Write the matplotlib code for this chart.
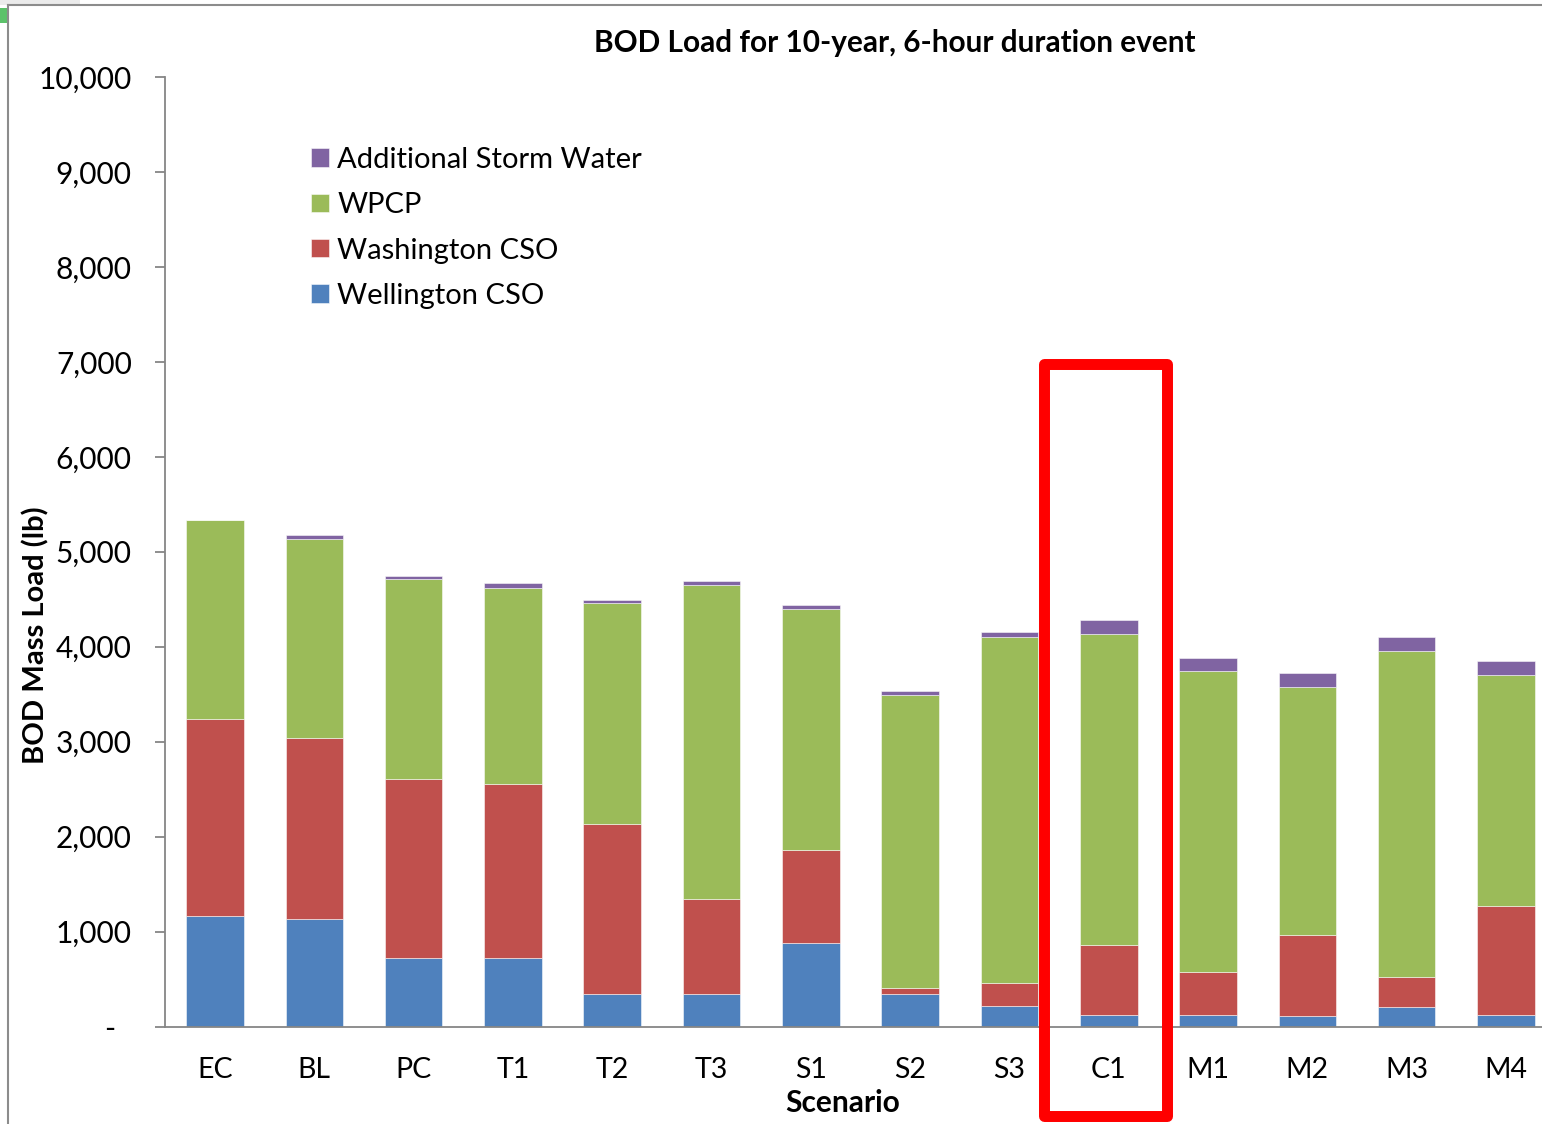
import matplotlib
matplotlib.use("Agg")
import matplotlib.pyplot as plt
from matplotlib.patches import Rectangle
from matplotlib.ticker import FuncFormatter
import numpy as np

plt.rcParams['font.family'] = ['Lato', 'DejaVu Sans']

scenarios = ["EC", "BL", "PC", "T1", "T2", "T3", "S1", "S2", "S3", "C1", "M1", "M2", "M3", "M4"]
wellington = [1163, 1128, 718, 718, 339, 339, 876, 339, 215, 124, 124, 107, 202, 124]
washington = [2074, 1912, 1890, 1838, 1789, 1003, 985, 69, 248, 734, 446, 859, 316, 1148]
wpcp = [2095, 2092, 2103, 2063, 2330, 3308, 2541, 3081, 3637, 3277, 3172, 2611, 3438, 2431]
storm = [0, 42, 31, 49, 31, 39, 35, 43, 53, 141, 140, 147, 144, 144]

series_names = ["Wellington CSO", "Washington CSO", "WPCP", "Additional Storm Water"]
colors = ["#4F81BD", "#C0504D", "#9BBB59", "#8064A2"]

W, H = 1542, 1124
fig = plt.figure(figsize=(W / 100, H / 100), dpi=100)

def fx(px):
    return px / W

def fy(py):
    return 1 - py / H

ax_left, ax_bottom, ax_top = 165.4, 1026.5, 77
ax = fig.add_axes([fx(ax_left), fy(ax_bottom), 1 - fx(ax_left), fy(ax_top) - fy(ax_bottom)])

x = np.arange(len(scenarios))
bottom = np.zeros(len(scenarios))
handles = []
for vals, name, c in zip([wellington, washington, wpcp, storm], series_names, colors):
    vals = np.array(vals, dtype=float)
    b = ax.bar(x, vals, width=0.58, bottom=bottom, color=c, label=name,
               edgecolor=(1, 1, 1, 0.6), linewidth=0.6)
    handles.append(b)
    bottom += vals

ax.set_xlim(-0.5, -0.5 + (W - ax_left) / 99.3)
ax.set_ylim(0, 10000)
ax.set_yticks(np.arange(0, 10001, 1000))
ax.yaxis.set_major_formatter(FuncFormatter(lambda v, p: "-  " if v == 0 else f"{int(v):,}"))
ax.set_xticks(x)
ax.set_xticklabels(scenarios)

for s in ["top", "right"]:
    ax.spines[s].set_visible(False)
for s in ["left", "bottom"]:
    ax.spines[s].set_color("#868686")
    ax.spines[s].set_linewidth(1.3)

ax.tick_params(axis="y", direction="out", length=7.2, width=1.3, color="#868686",
               labelsize=21.5, pad=17)
ax.tick_params(axis="x", length=0, labelsize=20.5, pad=22)

leg = ax.legend(handles[::-1], series_names[::-1], loc="upper left",
                bbox_to_anchor=(fx(311), fy(147)), bbox_transform=fig.transFigure,
                frameon=False, fontsize=21, handlelength=0.6, handleheight=0.6,
                handletextpad=0.3, labelspacing=0.66, borderpad=0, borderaxespad=0)

fig.text(fx(895), fy(43), "BOD Load for 10-year, 6-hour duration event", ha="center", va="center",
         fontsize=21.4, fontweight="bold")
fig.text(fx(36), fy(635), "BOD Mass Load (lb)", ha="center", va="center", rotation=90,
         fontsize=21, fontweight="bold")
fig.text(fx(843), fy(1103), "Scenario", ha="center", va="center", fontsize=21.5, fontweight="bold")

# outer frame of the embedded chart
fig.add_artist(Rectangle((0, fy(5)), fx(80), 1 - fy(5), transform=fig.transFigure,
                         facecolor="#EBEBEB", edgecolor="none"))
fig.add_artist(Rectangle((0, fy(23)), fx(7), fy(8) - fy(23), transform=fig.transFigure,
                         facecolor="#5CC26A", edgecolor="none"))
fig.add_artist(plt.Line2D([fx(8), 1], [fy(5), fy(5)], transform=fig.transFigure,
                          color="#8C8C8C", lw=1.5))
fig.add_artist(plt.Line2D([fx(8), fx(8)], [fy(5), 0], transform=fig.transFigure,
                          color="#8C8C8C", lw=1.5))

# red highlight box around C1
fig.add_artist(Rectangle((fx(1043.5), fy(1115.5)), fx(1167) - fx(1043.5), fy(363.5) - fy(1115.5),
                         transform=fig.transFigure, facecolor="none", edgecolor="#FF0000",
                         linewidth=7.9, joinstyle="round"))

fig.savefig("out.png", dpi=100)
